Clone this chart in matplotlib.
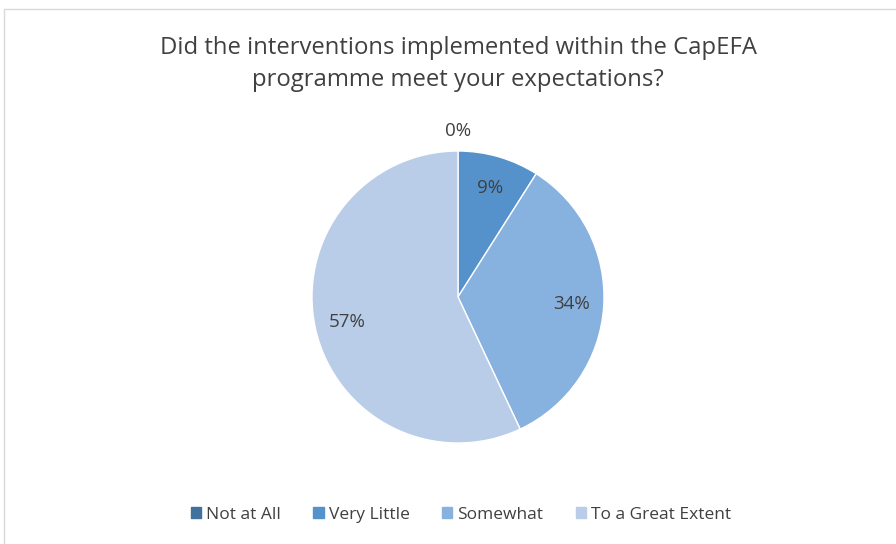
import matplotlib.pyplot as plt
import matplotlib.patches as mpatches
import numpy as np

categories = ['Not at All', 'Very Little', 'Somewhat', 'To a Great Extent']
values = [0, 9, 34, 57]
colors = ['#41729F', '#5592CB', '#87B1DE', '#B9CDE8']

plt.rcParams['font.family'] = ['Open Sans', 'DejaVu Sans']

fig = plt.figure(figsize=(8.96, 5.44), dpi=100)
W, H = 896, 544

# chart border
fig.patches.append(mpatches.Rectangle((4 / W, -0.01), 1.0, (544 - 9) / H + 0.01,
                                      transform=fig.transFigure, fill=False,
                                      edgecolor='#D9D9D9', linewidth=1))

cx, cy, r = 458, 297, 146
ax = fig.add_axes([(cx - r) / W, (H - cy - r) / H, 2 * r / W, 2 * r / H])

wedges, texts, autotexts = ax.pie(values, colors=colors, startangle=90, counterclock=False,
                                  autopct='%1.0f%%', pctdistance=0.78,
                                  wedgeprops=dict(edgecolor='white', linewidth=1),
                                  textprops=dict(color='#404040', fontsize=13.5))
ax.set_xlim(-1, 1)
ax.set_ylim(-1, 1)
ax.set_aspect('auto')
ax.axis('off')

# zero slice label sits outside the pie
for w, t, v in zip(wedges, autotexts, values):
    if v == 0:
        ang = np.deg2rad((w.theta1 + w.theta2) / 2)
        t.set_position((1.14 * np.cos(ang), 1.14 * np.sin(ang)))

fig.text(458 / W, 1 - 64 / H, 'Did the interventions implemented within the CapEFA\nprogramme meet your expectations?',
         ha='center', va='center', fontsize=17.2, color='#404040', linespacing=1.5)

handles = [mpatches.Patch(color=c, label=l) for c, l in zip(colors, categories)]
fig.legend(handles=handles, loc='center', bbox_to_anchor=(461 / W, 1 - 515 / H), ncol=4,
           frameon=False, fontsize=12.5, handlelength=0.6, handleheight=0.6,
           handletextpad=0.3, columnspacing=1.85, labelcolor='#404040')

fig.savefig('out.png', dpi=100)
